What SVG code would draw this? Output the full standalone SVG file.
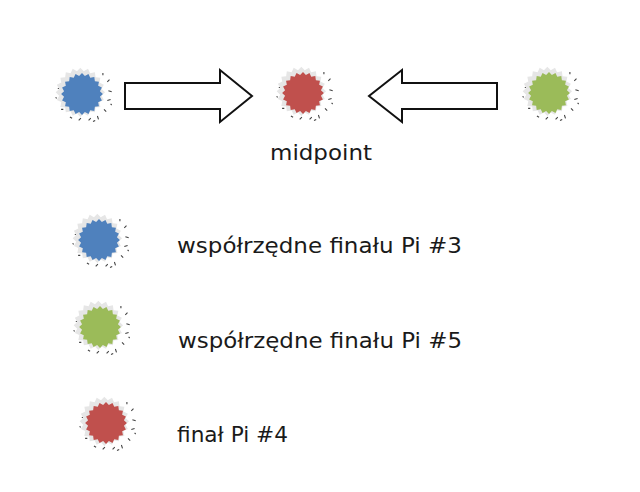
<svg xmlns="http://www.w3.org/2000/svg" xmlns:xlink="http://www.w3.org/1999/xlink" width="640" height="492" viewBox="0 0 640 492">
<style>
.lbl{font-family:"DejaVu Sans","Verdana",sans-serif;font-size:22px;fill:#1a1a1a}
.arrow{fill:#ffffff;stroke:#111;stroke-width:2;stroke-linejoin:miter}
.blue{fill:#4F81BD}.green{fill:#9BBB59}.red{fill:#C0504D}
</style>
<defs>
<symbol id="burst" viewBox="-30 -30 60 60" overflow="visible">
<polygon transform="translate(-1.5,-1.5) scale(1.18)" fill="#e6e6e6" points="19,0 16.3,2.6 18.1,5.9 14.7,7.5 15.4,11.2 11.7,11.7 11.2,15.4 7.5,14.7 5.9,18.1 2.6,16.3 0,19 -2.6,16.3 -5.9,18.1 -7.5,14.7 -11.2,15.4 -11.7,11.7 -15.4,11.2 -14.7,7.5 -18.1,5.9 -16.3,2.6 -19,0 -16.3,-2.6 -18.1,-5.9 -14.7,-7.5 -15.4,-11.2 -11.7,-11.7 -11.2,-15.4 -7.5,-14.7 -5.9,-18.1 -2.6,-16.3 0,-19 2.6,-16.3 5.9,-18.1 7.5,-14.7 11.2,-15.4 11.7,-11.7 15.4,-11.2 14.7,-7.5 18.1,-5.9 16.3,-2.6"/>
<path fill="none" stroke="#444" stroke-width="1" d="M19,-19 l0,2 M23,-11 l2,-2 M24,-3 l3,1 M23,6 l3,-1 M20,14 l2,2 M14,20 l1,3 M6,24 l2,-2 M-3,24 l2,-2 M-11,21 l2,1 M-19,14 l2,0 M-24,3 l1,1 M-22,-5 l1,0 M10,25 l2,-1 M26,9 l1,1"/>
<polygon points="19,0 16.3,2.6 18.1,5.9 14.7,7.5 15.4,11.2 11.7,11.7 11.2,15.4 7.5,14.7 5.9,18.1 2.6,16.3 0,19 -2.6,16.3 -5.9,18.1 -7.5,14.7 -11.2,15.4 -11.7,11.7 -15.4,11.2 -14.7,7.5 -18.1,5.9 -16.3,2.6 -19,0 -16.3,-2.6 -18.1,-5.9 -14.7,-7.5 -15.4,-11.2 -11.7,-11.7 -11.2,-15.4 -7.5,-14.7 -5.9,-18.1 -2.6,-16.3 0,-19 2.6,-16.3 5.9,-18.1 7.5,-14.7 11.2,-15.4 11.7,-11.7 15.4,-11.2 14.7,-7.5 18.1,-5.9 16.3,-2.6"/>
</symbol>
</defs>
<rect width="640" height="492" fill="#ffffff"/>
<g id="node-blue-top"><use xlink:href="#burst" href="#burst" x="49" y="61" width="66" height="66" class="blue"/></g>
<g id="node-midpoint"><use xlink:href="#burst" href="#burst" x="270" y="60" width="66" height="66" class="red"/><text class="lbl" x="270" y="160" textLength="102" lengthAdjust="spacingAndGlyphs">midpoint</text></g>
<g id="node-green-top"><use xlink:href="#burst" href="#burst" x="516" y="60" width="66" height="66" class="green"/></g>
<g id="connectors">
<polygon class="arrow" points="125,83 220,83 220,70 252,96 220,122 220,109 125,109"/>
<polygon class="arrow" points="497,83 402,83 402,70 369,96 402,122 402,109 497,109"/>
</g>
<g id="legend-blue"><use xlink:href="#burst" href="#burst" x="66" y="207" width="66" height="66" class="blue"/><text class="lbl" x="177" y="253" textLength="285" lengthAdjust="spacingAndGlyphs">współrzędne finału Pi #3</text></g>
<g id="legend-green"><use xlink:href="#burst" href="#burst" x="67" y="294" width="66" height="66" class="green"/><text class="lbl" x="178" y="348" textLength="284" lengthAdjust="spacingAndGlyphs">współrzędne finału Pi #5</text></g>
<g id="legend-red"><use xlink:href="#burst" href="#burst" x="73" y="390" width="66" height="66" class="red"/><text class="lbl" x="177" y="442" textLength="111" lengthAdjust="spacingAndGlyphs">finał Pi #4</text></g>
</svg>
